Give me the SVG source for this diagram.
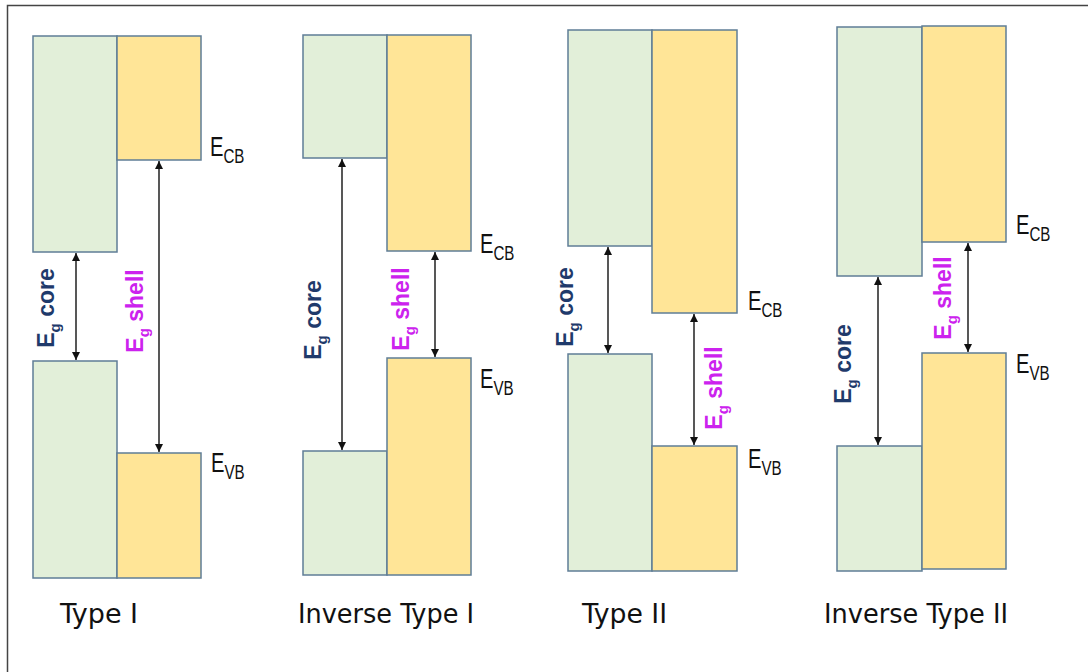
<svg xmlns="http://www.w3.org/2000/svg" width="1088" height="672" viewBox="0 0 1088 672">
  <style>
    .core { fill: #e2efd9; stroke: #5f7d96; stroke-width: 1.5; }
    .shell { fill: #ffe597; stroke: #5f7d96; stroke-width: 1.5; }
    .gap { stroke: #111; stroke-width: 1.4; fill: none; marker-start: url(#head); marker-end: url(#head); }
    .lvl { font-family: "Liberation Sans", Arial, sans-serif; font-size: 28px; fill: #111; }
    .lvl .sub { font-size: 21px; }
    .eg { font-family: "Liberation Sans", Arial, sans-serif; font-size: 23px; font-weight: bold; }
    .eg .sub { font-size: 15px; }
    .eg-core { fill: #1f3a6b; }
    .eg-shell { fill: #cc22ee; }
    .title { font-family: "Liberation Sans Narrow", "DejaVu Sans Condensed", "Liberation Sans", sans-serif; font-size: 26px; fill: #111; }
  </style>
  <defs>
    <marker id="head" viewBox="0 0 10 10" refX="10" refY="5" markerWidth="9" markerHeight="8" markerUnits="userSpaceOnUse" orient="auto-start-reverse">
      <path d="M0,0 L10,5 L0,10 Z" fill="#111"/>
    </marker>
  </defs>

  <rect width="1088" height="672" fill="#ffffff"/>
  <!-- frame edge -->
  <path d="M7.5,672 V5.5 H1088" fill="none" stroke="#444" stroke-width="1.5"/>

  <!-- Type I -->
  <g id="type-1">
    <rect class="core" x="33" y="36" width="84" height="216"/>
    <rect class="shell" x="117" y="36" width="84" height="124"/>
    <rect class="core" x="33" y="361" width="84" height="217"/>
    <rect class="shell" x="117" y="453" width="84" height="125"/>
    <text class="lvl" transform="translate(210,156) scale(0.72,1)">E<tspan class="sub" dy="7">CB</tspan></text>
    <text class="lvl" transform="translate(211,472) scale(0.72,1)">E<tspan class="sub" dy="7">VB</tspan></text>
    <text class="eg eg-core" transform="translate(54,308) rotate(-90)" text-anchor="middle">E<tspan class="sub" dy="6">g</tspan><tspan dy="-6"> core</tspan></text>
    <text class="eg eg-shell" transform="translate(143,311) rotate(-90)" text-anchor="middle">E<tspan class="sub" dy="6">g</tspan><tspan dy="-6"> shell</tspan></text>
    <text class="title" x="60" y="623" textLength="78" lengthAdjust="spacingAndGlyphs">Type I</text>
  </g>

  <!-- Inverse Type I -->
  <g id="inverse-type-1">
    <rect class="core" x="303" y="35" width="84" height="123"/>
    <rect class="shell" x="387" y="35" width="84" height="216"/>
    <rect class="core" x="303" y="451" width="84" height="124"/>
    <rect class="shell" x="387" y="358" width="84" height="217"/>
    <text class="lvl" transform="translate(480,253) scale(0.72,1)">E<tspan class="sub" dy="7">CB</tspan></text>
    <text class="lvl" transform="translate(480,388) scale(0.72,1)">E<tspan class="sub" dy="7">VB</tspan></text>
    <text class="eg eg-core" transform="translate(321,320) rotate(-90)" text-anchor="middle">E<tspan class="sub" dy="6">g</tspan><tspan dy="-6"> core</tspan></text>
    <text class="eg eg-shell" transform="translate(409,309) rotate(-90)" text-anchor="middle">E<tspan class="sub" dy="6">g</tspan><tspan dy="-6"> shell</tspan></text>
    <text class="title" x="298" y="623" textLength="176" lengthAdjust="spacingAndGlyphs">Inverse Type I</text>
  </g>

  <!-- Type II -->
  <g id="type-2">
    <rect class="core" x="568" y="30" width="84" height="216"/>
    <rect class="shell" x="652" y="30" width="85" height="283"/>
    <rect class="core" x="568" y="354" width="84" height="217"/>
    <rect class="shell" x="652" y="446" width="85" height="125"/>
    <text class="lvl" transform="translate(748,310) scale(0.72,1)">E<tspan class="sub" dy="7">CB</tspan></text>
    <text class="lvl" transform="translate(748,468) scale(0.72,1)">E<tspan class="sub" dy="7">VB</tspan></text>
    <text class="eg eg-core" transform="translate(573,307) rotate(-90)" text-anchor="middle">E<tspan class="sub" dy="6">g</tspan><tspan dy="-6"> core</tspan></text>
    <text class="eg eg-shell" transform="translate(722,388) rotate(-90)" text-anchor="middle">E<tspan class="sub" dy="6">g</tspan><tspan dy="-6"> shell</tspan></text>
    <text class="title" x="582" y="623" textLength="85" lengthAdjust="spacingAndGlyphs">Type II</text>
  </g>

  <!-- Inverse Type II -->
  <g id="inverse-type-2">
    <rect class="core" x="837" y="27" width="85" height="249"/>
    <rect class="shell" x="922" y="26" width="84" height="216"/>
    <rect class="core" x="837" y="446" width="85" height="125"/>
    <rect class="shell" x="922" y="353" width="84" height="216"/>
    <text class="lvl" transform="translate(1016,234) scale(0.72,1)">E<tspan class="sub" dy="7">CB</tspan></text>
    <text class="lvl" transform="translate(1016,373) scale(0.72,1)">E<tspan class="sub" dy="7">VB</tspan></text>
    <text class="eg eg-core" transform="translate(851,364) rotate(-90)" text-anchor="middle">E<tspan class="sub" dy="6">g</tspan><tspan dy="-6"> core</tspan></text>
    <text class="eg eg-shell" transform="translate(951,298) rotate(-90)" text-anchor="middle">E<tspan class="sub" dy="6">g</tspan><tspan dy="-6"> shell</tspan></text>
    <text class="title" x="824" y="623" textLength="184" lengthAdjust="spacingAndGlyphs">Inverse Type II</text>
  </g>

  <!-- band-gap arrows -->
  <g id="connectors">
    <line class="gap" x1="76" y1="253" x2="76" y2="360"/>
    <line class="gap" x1="159" y1="161" x2="159" y2="452"/>
    <line class="gap" x1="342" y1="159" x2="342" y2="450"/>
    <line class="gap" x1="435" y1="252" x2="435" y2="357"/>
    <line class="gap" x1="608" y1="247" x2="608" y2="353"/>
    <line class="gap" x1="694" y1="314" x2="694" y2="445"/>
    <line class="gap" x1="878" y1="277" x2="878" y2="445"/>
    <line class="gap" x1="968" y1="243" x2="968" y2="352"/>
  </g>
</svg>
